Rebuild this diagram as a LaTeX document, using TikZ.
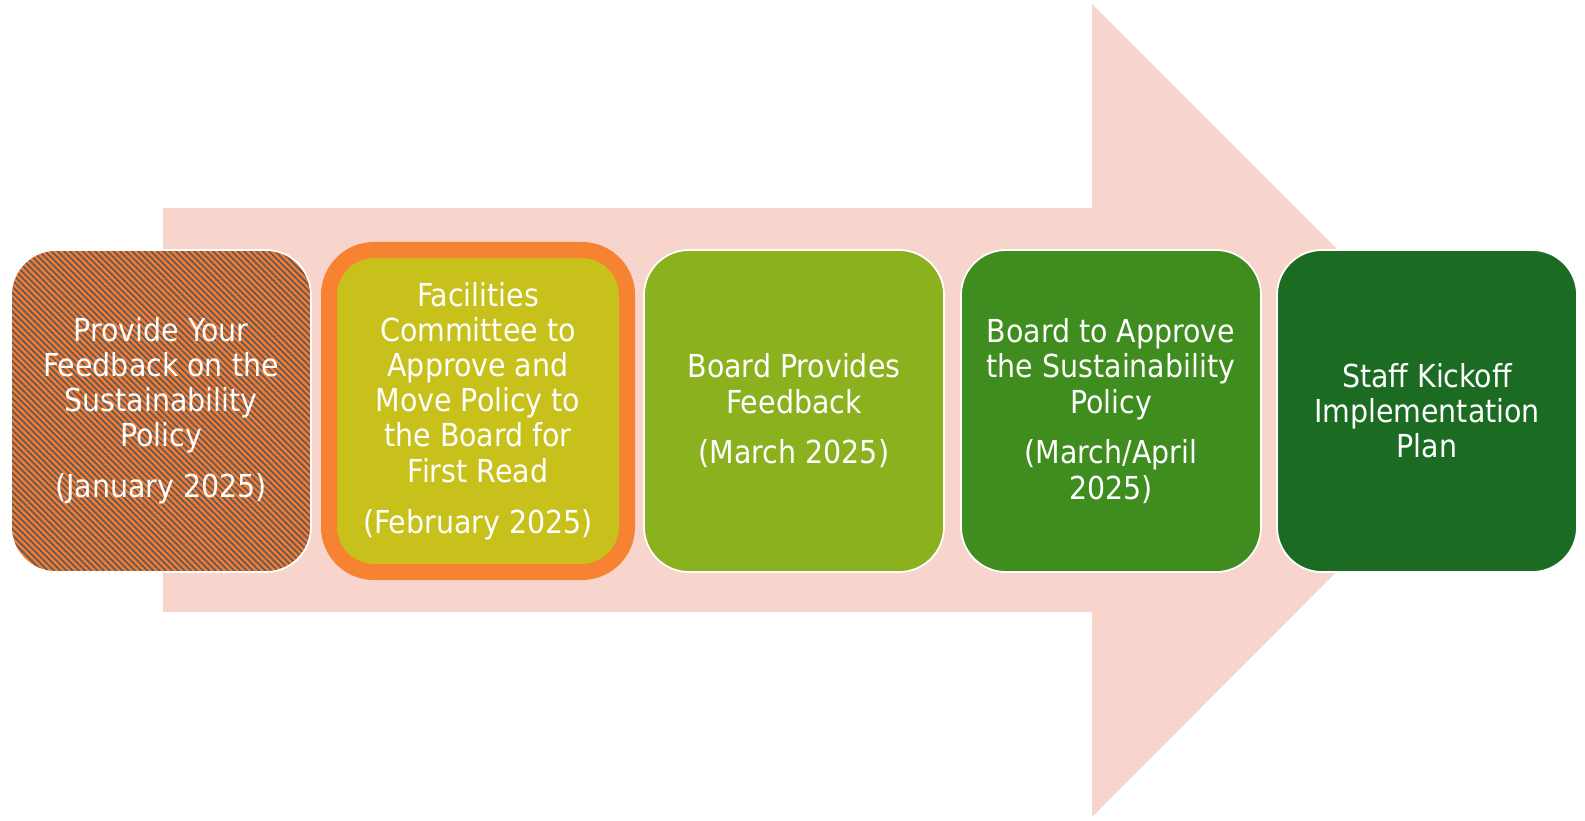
\documentclass[tikz,border=0pt]{standalone}
\usepackage{fontspec}
\setmainfont{DejaVu Sans Condensed}
\usetikzlibrary{patterns.meta, positioning}

\definecolor{arrowpink}{RGB}{247,213,204}
\definecolor{stepone}{RGB}{242,122,48}
\definecolor{stripegray}{RGB}{85,88,92}
\definecolor{hiorange}{RGB}{246,130,50}
\definecolor{steptwo}{RGB}{200,193,28}
\definecolor{stepthree}{RGB}{140,177,31}
\definecolor{stepfour}{RGB}{63,141,30}
\definecolor{stepfive}{RGB}{27,107,34}

\begin{document}
\begin{tikzpicture}[x=0.2mm, y=-0.2mm, every node/.style={font=\fontsize{18}{20}\selectfont}]
\tikzstyle{stepbox} = [rectangle, rounded corners=9mm, draw=white, line width=1pt, minimum width=60mm, minimum height=64.4mm, inner sep=0pt, text=white, align=center]
\tikzstyle{current} = [draw=hiorange, line width=3.2mm, minimum width=59.6mm]

\useasboundingbox (0,0) rectangle (1585,821);

% Big arrow behind the steps
\fill[arrowpink] (163,208) -- (1092,208) -- (1092,4) -- (1498,410) -- (1092,817) -- (1092,612) -- (163,612) -- cycle;

% Steps
\node[stepbox, preaction={fill=stepone}, pattern={Lines[angle=-45, distance=2.5pt, line width=0.9pt]}, pattern color=stripegray] (s1) at (161,411)
  {Provide Your\\Feedback on the\\Sustainability\\Policy\\[9pt](January 2025)};
\node[stepbox, current, fill=steptwo] (s2) at (478,411)
  {Facilities\\Committee to\\Approve and\\Move Policy to\\the Board for\\First Read\\[9pt](February 2025)};
\node[stepbox, fill=stepthree] (s3) at (794,411)
  {Board Provides\\Feedback\\[9pt](March 2025)};
\node[stepbox, fill=stepfour] (s4) at (1111,411)
  {Board to Approve\\the Sustainability\\Policy\\[9pt](March/April\\2025)};
\node[stepbox, fill=stepfive] (s5) at (1427,411)
  {Staff Kickoff\\Implementation\\Plan};

\end{tikzpicture}
\end{document}
